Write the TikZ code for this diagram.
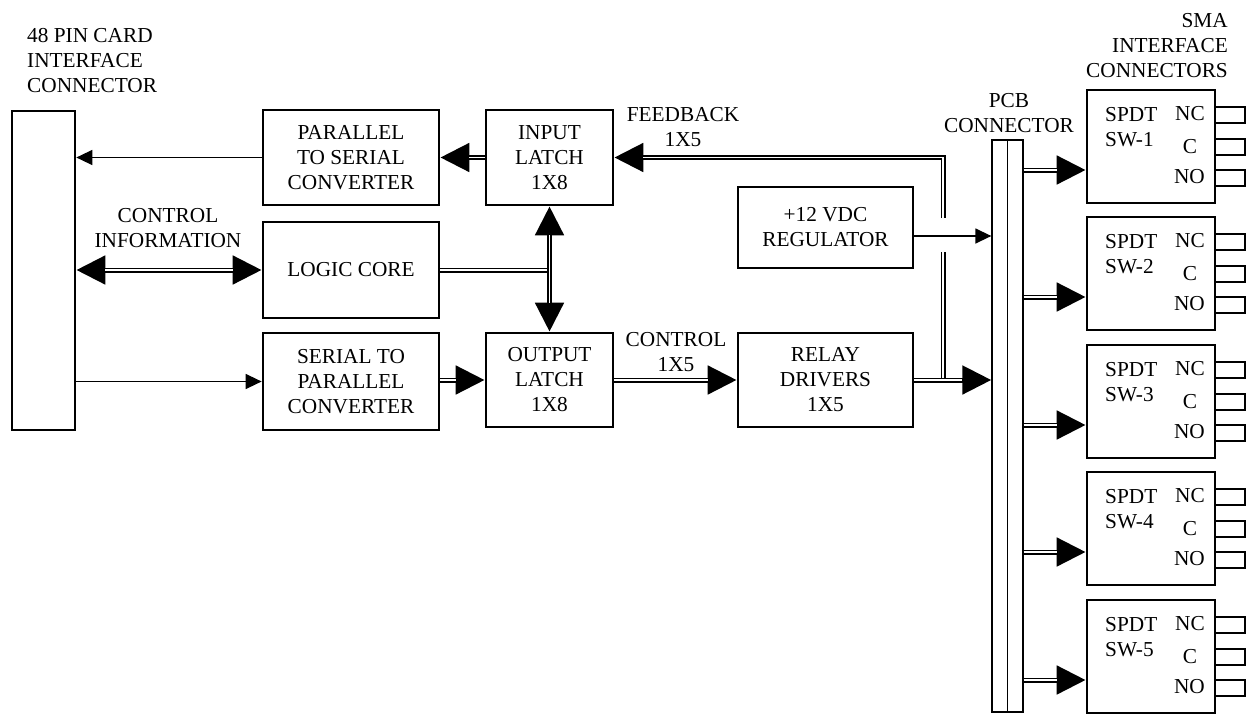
\documentclass[tikz,border=0pt]{standalone}
\usepackage{fontspec}
\setmainfont{Liberation Serif}
\usetikzlibrary{arrows.meta,calc}
\tikzset{
  txt/.style={font=\fontsize{21.3}{25}\selectfont, inner sep=0pt, align=center},
  blk/.style={draw, line width=2.7pt, txt},
  bus/.style={line width=5pt, postaction={draw=white, line width=1.8pt}},
  busarr/.style={line width=5pt, -{Triangle[length=29pt,width=28pt]}, postaction={draw=white, line width=1.8pt, -, shorten >=29pt}},
  busdbl/.style={line width=5pt, {Triangle[length=29pt,width=28pt]}-{Triangle[length=29pt,width=28pt]}, postaction={draw=white, line width=1.8pt, -, shorten >=29pt, shorten <=29pt}},
  thinarr/.style={line width=1.4pt, -{Triangle[length=16pt,width=15pt]}},
  pinbox/.style={draw, line width=2.2pt},
}
\begin{document}
\begin{tikzpicture}[x=1pt,y=-1pt]
\useasboundingbox (0,0) rectangle (1252,715);
% blocks
\node[blk, minimum width=63pt, minimum height=319pt] (conn) at (43.5,270.5) {};
\node[blk, minimum width=176pt, minimum height=95pt] (p2s) at (351,157.5) {PARALLEL\\TO SERIAL\\CONVERTER};
\node[blk, minimum width=176pt, minimum height=96pt] (logic) at (351,270) {LOGIC CORE};
\node[blk, minimum width=176pt, minimum height=97pt] (s2p) at (351,381.5) {SERIAL TO\\PARALLEL\\CONVERTER};
\node[blk, minimum width=127pt, minimum height=95pt] (inl) at (549.5,157.5) {INPUT\\LATCH\\1X8};
\node[blk, minimum width=127pt, minimum height=94pt] (outl) at (549.5,380) {OUTPUT\\LATCH\\1X8};
\node[blk, minimum width=175pt, minimum height=81pt] (reg) at (825.5,227.5) {+12 VDC\\REGULATOR};
\node[blk, minimum width=175pt, minimum height=94pt] (relay) at (825.5,380) {RELAY\\DRIVERS\\1X5};
\node[draw, line width=1.3pt, minimum width=31pt, minimum height=572pt, inner sep=0pt] (pcb) at (1007.5,426) {};
\draw[line width=1.3pt] (pcb.north) -- (pcb.south);
% labels
\node[txt, align=left, anchor=north west] (title) at (27,28) {48 PIN CARD\\INTERFACE\\CONNECTOR};
\node[txt, anchor=north] (ctrlinfo) at (168,208) {CONTROL\\INFORMATION};
\node[txt, anchor=north] (fbl) at (683,107) {FEEDBACK\\1X5};
\node[txt, anchor=north] (ctll) at (676,332) {CONTROL\\1X5};
\node[txt, anchor=north] (pcbl) at (1009,93) {PCB\\CONNECTOR};
\node[txt, align=right, anchor=north east] (smal) at (1228,13) {SMA\\INTERFACE\\CONNECTORS};
% connectors left side
\draw[thinarr] (p2s.west) -- (p2s.west -| conn.east);
\draw[busdbl] (logic.west -| conn.east) -- (logic.west);
\draw[thinarr] (s2p.west -| conn.east) -- (s2p.west);
\draw[busarr] (inl.west) -- (inl.west -| p2s.east);
\draw[busarr] (s2p.east |- outl.west) -- (outl.west);
\draw[bus] (logic.east) -- (logic.east -| inl.south);
\draw[busdbl] (inl.south) -- (outl.north);
\draw[busarr] (outl.east) -- (relay.west);
% feedback
\coordinate (fbA) at (943,380);
\coordinate (fbB) at (943,252);
\coordinate (fbC) at (943,218);
\coordinate (fbD) at (fbC |- inl.east);
\draw[bus] (fbA) -- (fbB);
\draw[busarr] (fbC) -- (fbD) -- (inl.east);
\draw[busarr] (relay.east) -- (relay.east -| pcb.west);
\coordinate (regout) at ([yshift=-8.5pt]reg.east);
\draw[thinarr] (regout) -- (regout -| pcb.west);
% switches
\foreach \i/\t in {1/90,2/217,3/345,4/472,5/600}{
  \node[blk, minimum width=128pt, minimum height=113pt] (sw\i) at (1151,{\t+56.5}) {};
  \node[txt, anchor=base west] (spdt\i) at (1105,{\t+31}) {SPDT};
  \node[txt, anchor=base west] (swl\i) at (1105,{\t+56}) {SW-\i};
  \node[txt, anchor=base east] (nc\i) at (1205,{\t+30}) {NC};
  \node[txt, anchor=base] (c\i) at (1190,{\t+63}) {C};
  \node[txt, anchor=base east] (no\i) at (1205,{\t+93}) {NO};
  \draw[pinbox] (1215,{\t+17}) rectangle (1245,{\t+33});
  \draw[pinbox] (1215,{\t+49}) rectangle (1245,{\t+65});
  \draw[pinbox] (1215,{\t+80}) rectangle (1245,{\t+96});
  \coordinate (a\i) at ([yshift=-23.5pt]sw\i.west);
  \draw[busarr] (a\i -| pcb.east) -- (a\i);
}
\end{tikzpicture}
\end{document}
